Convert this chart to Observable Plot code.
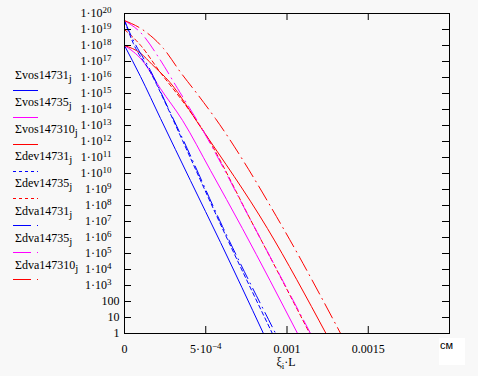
<!DOCTYPE html>
<html><head><meta charset="utf-8">
<script src="https://cdn.jsdelivr.net/npm/d3@7"></script>
<script src="https://cdn.jsdelivr.net/npm/@observablehq/plot@0.6"></script>
<style>
html,body{margin:0;padding:0;background:#f8f8f8;}
#wrap{position:relative;width:478px;height:376px;overflow:hidden;}
#wrap svg{position:absolute;left:0;top:0;}
#wrap svg text{font-family:"Liberation Serif","DejaVu Serif","Times New Roman",serif !important;}
#wrap svg text.unit{font-family:"Liberation Sans","DejaVu Sans",Arial,sans-serif !important;}
</style></head><body><div id="wrap"></div>
<script>
// Legend / series definitions
const seriesNames  = ["Σvos14731","Σvos14735","Σvos147310","Σdev14731","Σdev14735","Σdva14731","Σdva14735","Σdva147310"];
const seriesColors = ["#0000ff","#ff00ff","#ff0000","#0000ff","#ff0000","#0000ff","#ff00ff","#ff0000"];
const seriesDash   = [null,null,null,"4,3","4,3","16,5,1,5","16,5,1,5","16,5,1,5"];
const legendDash   = [null,null,null,"3,3","3,3","18,6,1,6","18,6,1,6","18,6,1,6"];

// x: depth ξ·L (cm); y: concentration
const vos14731_x  = [0, 0.0000985, 0.000222, 0.000406, 0.000591, 0.000855];
const vos14731_y  = [1e18, 1.15e16, 2.7e13, 3.6e9, 4.9e5, 1];
const vos14735_x  = [0, 0.00011, 0.00022, 0.000357, 0.00053, 0.000726, 0.001065];
const vos14735_y  = [1e18, 1.15e17, 2.1e15, 2.1e13, 1.5e10, 3.6e6, 1];
const vos147310_x = [0, 0.0001, 0.00017, 0.00028, 0.00047, 0.00088, 0.00124];
const vos147310_y = [1e18, 3.2e17, 6.5e16, 4.9e15, 7.5e12, 3.6e6, 1];
const dev14731_x  = [0, 0.000055, 0.00016, 0.000265, 0.000357, 0.000603, 0.00091];
const dev14731_y  = [3.6e19, 1.3e18, 2.1e16, 1.3e14, 1.15e12, 3.6e6, 1];
const dev14735_x  = [0, 0.0001, 0.00022, 0.000345, 0.000468, 0.000794, 0.00114];
const dev14735_y  = [1e19, 1e18, 2.1e16, 4.9e14, 8.7e12, 5.6e6, 1];
const dva14731_x  = [0, 0.000049, 0.00016, 0.00027, 0.000363, 0.000603, 0.00093];
const dva14731_y  = [3.6e19, 2.7e18, 2.7e16, 1.15e14, 1.15e12, 4.9e6, 1];
const dva14735_x  = [0, 0.00011, 0.00021, 0.000326, 0.000455, 0.000794, 0.001145];
const dva14735_y  = [3.6e19, 4.9e18, 1.8e17, 2.1e15, 1.5e13, 5.6e6, 1];
const dva147310_x = [0, 0.00011, 0.00024, 0.000345, 0.000455, 0.00056, 0.000978, 0.00133];
const dva147310_y = [3.6e19, 1e19, 6.5e17, 2.1e16, 7.5e14, 2.7e13, 3.6e6, 1];

const seriesX = [vos14731_x, vos14735_x, vos147310_x, dev14731_x, dev14735_x, dva14731_x, dva14735_x, dva147310_x];
const seriesY = [vos14731_y, vos14735_y, vos147310_y, dev14731_y, dev14735_y, dva14731_y, dva14735_y, dva147310_y];

// Axis ticks
const yTicks = d3.range(0, 21).map(e => Math.pow(10, e));
const yTickLabels = ["1","10","100"].concat(d3.range(3, 21).map(e => "1·10^" + e));
const xTicks = [0, 0.0005, 0.001, 0.0015];
const xTickLabels = ["0", "5·10^−4", "0.001", "0.0015"];
const innerTicks = yTicks.slice(1, -1);
const innerXTicks = xTicks.slice(1);

const lineMarks = seriesNames.map((n, i) => {
  const rows = seriesX[i].map((x, k) => ({x, y: seriesY[i][k]}));
  return Plot.line(rows, {x: "x", y: "y", stroke: seriesColors[i], strokeWidth: 1,
    strokeDasharray: seriesDash[i] || undefined, curve: "monotone-x"});
});

const plot = Plot.plot({
  width: 478, height: 376,
  marginLeft: 124, marginRight: 29, marginTop: 13, marginBottom: 43,
  style: {background: "transparent", fontFamily: "'Liberation Serif','DejaVu Serif',serif", fontSize: "12px", color: "#000"},
  x: {type: "linear", domain: [0, 0.002], ticks: xTicks, tickSize: 0, tickPadding: 11,
      tickFormat: d => xTickLabels[xTicks.indexOf(d)], label: null},
  y: {type: "log", domain: [1, 1e20], ticks: yTicks, tickSize: 0, tickPadding: 5,
      tickFormat: d => yTickLabels[yTicks.indexOf(d)], label: null},
  marks: [
    ...lineMarks,
    Plot.tickY(innerTicks, {y: d => d, insetRight: 318, stroke: "#000"}),
    Plot.tickY(innerTicks, {y: d => d, insetLeft: 318, stroke: "#000"}),
    Plot.tickX(innerXTicks, {x: d => d, insetTop: 313, stroke: "#000"}),
    Plot.tickX(innerXTicks, {x: d => d, insetBottom: 313, stroke: "#000"}),
    Plot.frame({stroke: "#000", strokeWidth: 1})
  ]
});

const wrap = document.getElementById("wrap");
wrap.appendChild(plot);

// superscripts in tick labels
const NS = "http://www.w3.org/2000/svg";
plot.querySelectorAll("text").forEach(t => {
  t.style.fontSize = "12px";
  const s = t.textContent;
  if (s.includes("^")) {
    const [base, exp] = s.split("^");
    t.textContent = base;
    const ts = document.createElementNS(NS, "tspan");
    ts.setAttribute("dy", "-0.45em");
    ts.setAttribute("font-size", "9");
    ts.style.fontSize = "9px";
    ts.textContent = exp;
    t.appendChild(ts);
    if (base.startsWith("1·")) t.setAttribute("dx", "-8");
  }
});

// Legend, axis title and unit overlay
const ov = d3.select(wrap).append("svg").attr("width", 478).attr("height", 376)
  .style("font-size", "12px");

seriesNames.forEach((n, i) => {
  const base = 79 + 27.1 * i;
  const t = ov.append("text").attr("x", 15).attr("y", base).attr("fill", "#000").text(n);
  t.append("tspan").attr("dy", 3).style("font-size", "11px").text("j");
  const ly = Math.round(90 + 27 * i) + 0.5;
  ov.append("line").attr("x1", 13).attr("x2", 38).attr("y1", ly).attr("y2", ly)
    .attr("stroke", seriesColors[i]).attr("stroke-width", 1)
    .attr("stroke-dasharray", legendDash[i]);
});

const xt = ov.append("text").attr("x", 286).attr("y", 366).attr("text-anchor", "middle").attr("fill", "#000");
xt.append("tspan").text("ξ");
xt.append("tspan").attr("dy", 3).style("font-size", "9px").text("i");
xt.append("tspan").attr("dy", -3).text("·L");

ov.append("rect").attr("x", 439).attr("y", 338).attr("width", 26).attr("height", 27).attr("fill", "#fff");
ov.append("text").attr("class", "unit").attr("x", 440).attr("y", 349).attr("fill", "#000")
  .style("font-size", "11px").text("см");
</script></body></html>
